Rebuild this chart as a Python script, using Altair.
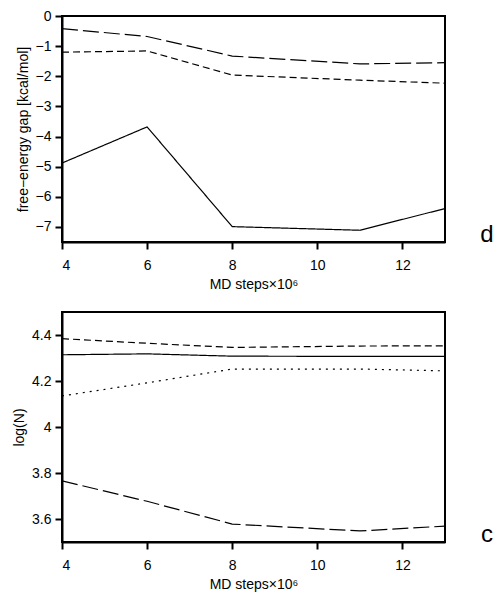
import altair as alt
import pandas as pd

# x positions (MD steps x 10^6)
x_steps = [4, 6, 8, 11, 13]
x_ticks = [4, 6, 8, 10, 12]

# panel d: free-energy gap [kcal/mol]
gap_long = [-0.42, -0.68, -1.33, -1.59, -1.55]
gap_short = [-1.20, -1.16, -1.96, -2.13, -2.23]
gap_solid = [-4.88, -3.68, -6.99, -7.11, -6.39]
d_ticks = [0, -1, -2, -3, -4, -5, -6, -7]

# panel c: log(N)
logn_short = [4.384, 4.364, 4.346, 4.352, 4.353]
logn_solid = [4.314, 4.318, 4.308, 4.307, 4.307]
logn_dotted = [4.135, 4.192, 4.252, 4.252, 4.244]
logn_long = [3.766, 3.677, 3.578, 3.548, 3.569]
c_ticks = [3.6, 3.8, 4.0, 4.2, 4.4]

series_names = ["solid", "short", "long", "dotted"]
dash_patterns = [[1, 0], [7, 4], [16, 5], [2, 5]]

FONT = "Liberation Sans"
W = 383


def long_df(series_dict):
    rows = []
    for name, vals in series_dict.items():
        for xv, yv in zip(x_steps, vals):
            rows.append({"x": xv, "y": yv, "series": name})
    return pd.DataFrame(rows)


df_d = long_df({"long": gap_long, "short": gap_short, "solid": gap_solid})
df_c = long_df({"short": logn_short, "solid": logn_solid,
                "dotted": logn_dotted, "long": logn_long})


def panel(df, ydomain, yticks, ytitle, height, label):
    lines = alt.Chart(df).mark_line(color="black", strokeWidth=1.2, clip=True).encode(
        x=alt.X("x:Q",
                scale=alt.Scale(domain=[4, 13], nice=False, zero=False),
                axis=alt.Axis(values=x_ticks, title="MD steps×10⁶", format="~g")),
        y=alt.Y("y:Q",
                scale=alt.Scale(domain=ydomain, nice=False, zero=False),
                axis=alt.Axis(values=yticks, title=ytitle, format="~g")),
        strokeDash=alt.StrokeDash("series:N",
                                  scale=alt.Scale(domain=series_names, range=dash_patterns),
                                  legend=None),
        detail="series:N",
    )
    txt = alt.Chart(pd.DataFrame({"label": [label]})).mark_text(
        font=FONT, fontSize=24, align="center", baseline="alphabetic", color="black"
    ).encode(text="label:N", x=alt.value(W + 42), y=alt.value(height))
    return alt.layer(lines, txt).properties(width=W, height=height)


top = panel(df_d, [-7.5, 0], d_ticks, "free−energy gap [kcal/mol]", 226, "d")
bottom = panel(df_c, [3.5, 4.5], c_ticks, "log(N)", 230, "c")

chart = alt.vconcat(top, bottom, spacing=19).properties(
    padding={"left": 3, "top": 0, "right": 0, "bottom": 0}
).configure_axis(
    grid=False,
    domainColor="black", domainWidth=2,
    tickColor="black", tickWidth=2, tickSize=7,
    labelFont=FONT, labelFontSize=14, labelColor="black",
    titleFont=FONT, titleFontSize=14, titleColor="black", titleFontWeight="normal",
    titlePadding=5,
).configure_axisX(labelPadding=9).configure_axisY(labelPadding=4).configure_view(
    stroke="black", strokeWidth=2
)

chart.save("out.html", embed_options={"renderer": "svg", "actions": False})
